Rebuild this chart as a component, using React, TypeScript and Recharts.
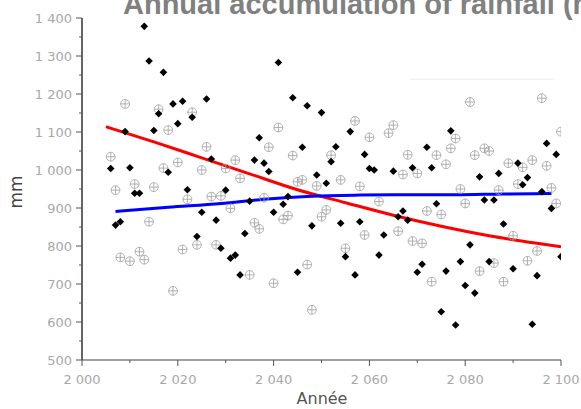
import React from 'react';
import { ComposedChart, Scatter, Line, XAxis, YAxis, ReferenceLine } from 'recharts';

// black diamonds
const blackYears = [
  2006, 2007, 2008, 2009, 2010, 2011, 2012, 2013, 2014, 2015, 2016, 2017, 2018, 2019, 2020,
  2021, 2022, 2023, 2024, 2025, 2026, 2027, 2028, 2029, 2030, 2031, 2032, 2033, 2034, 2035,
  2036, 2037, 2038, 2039, 2040, 2041, 2042, 2043, 2044, 2045, 2046, 2047, 2048, 2049, 2050,
  2051, 2052, 2053, 2054, 2055, 2056, 2057, 2058, 2059, 2060, 2061, 2062, 2063, 2065, 2066,
  2067, 2068, 2069, 2070, 2071, 2072, 2073, 2074, 2075, 2076, 2077, 2078, 2079, 2080, 2081,
  2082, 2083, 2084, 2085, 2086, 2087, 2088, 2090, 2091, 2092, 2093, 2094, 2095, 2096, 2097,
  2098, 2099, 2100,
];
const blackMm = [
  1004, 855, 864, 1101, 1006, 939, 939, 1378, 1287, 1104, 1148, 1257, 994, 1174, 1122,
  1181, 948, 1139, 825, 889, 1187, 1029, 868, 794, 947, 768, 776, 724, 833, 918,
  1026, 1085, 1018, 996, 889, 1283, 910, 930, 1190, 731, 1060, 1169, 853, 987, 1151,
  965, 1022, 1061, 860, 772, 1101, 724, 864, 1041, 1004, 1000, 776, 829, 997, 877,
  892, 868, 1006, 731, 752, 1060, 1006, 911, 627, 734, 1103, 592, 759, 696, 803,
  676, 982, 921, 759, 921, 991, 858, 740, 1018, 961, 980, 594, 722, 943, 1070,
  899, 1041, 772,
];

// grey crossed circles
const greyYears = [
  2006, 2007, 2008, 2009, 2010, 2011, 2012, 2013, 2014, 2015, 2016, 2017, 2018, 2019, 2020,
  2021, 2022, 2023, 2024, 2025, 2026, 2027, 2028, 2029, 2030, 2031, 2032, 2033, 2035, 2036,
  2037, 2038, 2039, 2040, 2041, 2042, 2043, 2044, 2045, 2046, 2047, 2048, 2049, 2050, 2051,
  2052, 2054, 2055, 2057, 2058, 2059, 2060, 2062, 2064, 2065, 2066, 2067, 2068, 2069, 2070,
  2071, 2072, 2073, 2074, 2075, 2076, 2077, 2078, 2079, 2080, 2081, 2082, 2083, 2084, 2085,
  2086, 2087, 2088, 2089, 2090, 2091, 2092, 2093, 2094, 2095, 2096, 2097, 2098, 2099, 2100,
];
const greyMm = [
  1035, 947, 770, 1174, 760, 963, 785, 764, 864, 955, 1160, 1005, 1105, 682, 1020,
  791, 923, 1152, 803, 1000, 1061, 930, 803, 932, 1004, 899, 1026, 978, 724, 861,
  845, 927, 1060, 702, 1112, 870, 880, 1038, 969, 974, 751, 632, 958, 877, 895,
  1039, 974, 794, 1129, 957, 829, 1086, 917, 1097, 1118, 839, 988, 1040, 813, 991,
  807, 892, 706, 1039, 883, 1015, 1057, 1083, 950, 912, 1179, 1039, 734, 1057, 1050,
  755, 947, 706, 1018, 827, 963, 1007, 761, 1026, 787, 1189, 1011, 953, 912, 1101,
];

// trend curves
const redYears = [2005, 2015, 2025, 2035, 2045, 2055, 2065, 2075, 2085, 2095, 2100];
const redMm = [1114, 1074, 1032, 990, 948, 914, 881, 852, 827, 807, 798];
const blueYears = [2007, 2018, 2029, 2038, 2048, 2058, 2068, 2078, 2088, 2098];
const blueMm = [891, 902, 912, 923, 931, 934, 935, 935, 937, 938];

const xTicks = [2000, 2010, 2020, 2030, 2040, 2050, 2060, 2070, 2080, 2090, 2100];
const yTicks = [500, 550, 600, 650, 700, 750, 800, 850, 900, 950, 1000, 1050, 1100, 1150, 1200, 1250, 1300, 1350, 1400];

const faintLine = { from: 2068.5, to: 2098.6, mm: 1239 };

const pairs = (xs: number[], ys: number[]) => xs.map((year, i) => ({ year, mm: ys[i] }));
const blackData = pairs(blackYears, blackMm);
const greyData = pairs(greyYears, greyMm);
const redData = pairs(redYears, redMm);
const blueData = pairs(blueYears, blueMm);

const fmt = (v: number) =>
  v >= 1000 ? `${Math.floor(v / 1000)} ${String(v % 1000).padStart(3, '0')}` : `${v}`;

const tickFont = '"DejaVu Sans", sans-serif';

const YTick = (props: any) => {
  const { x, y, payload } = props;
  const major = payload.value % 100 === 0;
  return (
    <g>
      <line x1={x} x2={x - (major ? 6 : 3)} y1={y} y2={y} stroke="#555" strokeWidth={1} />
      {major && (
        <text x={x - 10} y={y} dy={4.6} textAnchor="end" fontSize={13} fill="#a8a8a8" fontFamily={tickFont}>
          {fmt(payload.value)}
        </text>
      )}
    </g>
  );
};

const XTick = (props: any) => {
  const { x, y, payload } = props;
  const major = payload.value % 20 === 0;
  return (
    <g>
      <line x1={x} x2={x} y1={y} y2={y + (major ? 6 : 3)} stroke="#555" strokeWidth={1} />
      {major && (
        <text x={x} y={y + 24} textAnchor="middle" fontSize={13} fill="#a8a8a8" fontFamily={tickFont}>
          {fmt(payload.value)}
        </text>
      )}
    </g>
  );
};

const Diamond = (props: any) => {
  const { cx, cy } = props;
  const s = 3.8;
  return <polygon points={`${cx},${cy - s} ${cx + s},${cy} ${cx},${cy + s} ${cx - s},${cy}`} fill="#000" />;
};

const CrossCircle = (props: any) => {
  const { cx, cy } = props;
  const r = 4.4;
  return (
    <g stroke="#a0a0a0" strokeWidth={0.8} fill="none">
      <circle cx={cx} cy={cy} r={r} />
      <line x1={cx} x2={cx} y1={cy - r} y2={cy + r} />
      <line x1={cx - r} x2={cx + r} y1={cy} y2={cy} />
    </g>
  );
};

export default function App() {
  return (
    <div style={{ position: 'absolute', left: 0, top: 0, width: 581, height: 409, overflow: 'hidden', background: '#fff' }}>
      <div
        style={{
          position: 'absolute',
          left: 123,
          top: -10,
          whiteSpace: 'nowrap',
          fontFamily: '"Liberation Sans", Arial, sans-serif',
          fontWeight: 'bold',
          fontSize: 29,
          lineHeight: 1,
          color: '#808080',
        }}
      >
        Annual accumulation of rainfall (mm)
      </div>
      <ComposedChart width={581} height={409} margin={{ top: 18, right: 20, bottom: 9, left: 22 }}>
        <XAxis
          dataKey="year"
          type="number"
          domain={[2000, 2100]}
          ticks={xTicks}
          interval={0}
          height={40}
          tickSize={0}
          tickMargin={0}
          tick={<XTick />}
          axisLine={{ stroke: '#a0a0a0', strokeWidth: 2 }}
          allowDataOverflow
        />
        <YAxis
          type="number"
          domain={[500, 1400]}
          ticks={yTicks}
          interval={0}
          width={60}
          tickSize={0}
          tickMargin={0}
          tick={<YTick />}
          axisLine={{ stroke: '#333', strokeWidth: 1.5 }}
          allowDataOverflow
        />
        <ReferenceLine
          segment={[
            { x: faintLine.from, y: faintLine.mm },
            { x: faintLine.to, y: faintLine.mm },
          ]}
          stroke="#ececec"
          strokeWidth={1}
        />
        <Scatter data={greyData} dataKey="mm" shape={<CrossCircle />} isAnimationActive={false} />
        <Scatter data={blackData} dataKey="mm" shape={<Diamond />} isAnimationActive={false} />
        <Line data={redData} dataKey="mm" type="monotone" stroke="#ff0000" strokeWidth={3} dot={false} isAnimationActive={false} />
        <Line data={blueData} dataKey="mm" type="monotone" stroke="#0000ff" strokeWidth={3} dot={false} isAnimationActive={false} />
      </ComposedChart>
      <div
        style={{
          position: 'absolute',
          left: 322,
          top: 398,
          transform: 'translate(-50%, -50%)',
          fontFamily: tickFont,
          fontSize: 16,
          color: '#555',
          whiteSpace: 'nowrap',
        }}
      >
        Année
      </div>
      <div
        style={{
          position: 'absolute',
          left: 16,
          top: 192,
          transform: 'translate(-50%, -50%) rotate(-90deg)',
          fontFamily: tickFont,
          fontSize: 17,
          color: '#444',
          whiteSpace: 'nowrap',
        }}
      >
        mm
      </div>
    </div>
  );
}
